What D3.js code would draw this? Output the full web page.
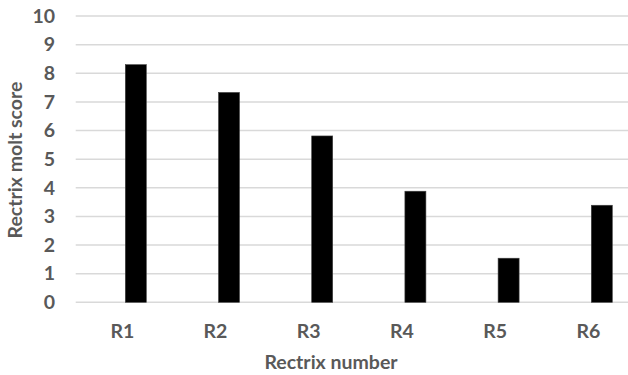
<!DOCTYPE html>
<html><head><meta charset="utf-8">
<script src="https://cdn.jsdelivr.net/npm/d3@7"></script>
<style>body{margin:0;background:#fff}svg{display:block}text{font-family:Lato,"Open Sans",sans-serif;font-weight:700;fill:#595959}</style>
</head><body><div id="c"></div>
<script>
const categories = ["R1","R2","R3","R4","R5","R6"];
const values = [8.3, 7.33, 5.81, 3.88, 1.54, 3.39];
const yTicks = [0,1,2,3,4,5,6,7,8,9,10];
const xTitle = "Rectrix number";
const yTitle = "Rectrix molt score";

const W = 628, H = 375, FS = 19.5;
const svg = d3.select("#c").append("svg").attr("width", W).attr("height", H);
const y = d3.scaleLinear().domain([0,10]).range([302.3, 16]);
// category bands: each category holds an (empty) first slot and the visible bar
const x = d3.scaleBand().domain(categories).range([75.7, 634.9]).padding(0);
const labelX = d => x(d) + x.bandwidth()/2;
const barW = 21;
const barOffset = 13.5;

// gridlines
svg.append("g").selectAll("line").data(yTicks).join("line")
  .attr("x1", 75.7).attr("x2", W).attr("y1", d => y(d)).attr("y2", d => y(d))
  .attr("stroke", "#d9d9d9").attr("stroke-width", 1.5);

// y axis labels
const ya = svg.append("g").attr("transform", "translate(55,0)")
  .call(d3.axisLeft(y).tickValues(yTicks).tickSize(0).tickPadding(0));
ya.select(".domain").remove();
ya.selectAll("text").attr("font-size", FS).attr("fill", "#595959")
  .style("font-family", "Lato,'Open Sans',sans-serif").style("font-weight", 700);

// bars
svg.append("g").selectAll("rect").data(values).join("rect")
  .attr("x", (d,i) => labelX(categories[i]) + barOffset - barW/2)
  .attr("width", barW)
  .attr("y", d => y(d))
  .attr("height", d => y(0) - y(d))
  .attr("fill", "#000").attr("stroke", "#404040").attr("stroke-width", 0.6);

// x labels
const xa = svg.append("g").attr("transform", "translate(0,338)")
  .call(d3.axisBottom(x).tickSize(0).tickPadding(0));
xa.select(".domain").remove();
xa.selectAll("text").attr("font-size", FS).attr("fill", "#595959").attr("dy", 0).attr("y", 0)
  .style("font-family", "Lato,'Open Sans',sans-serif").style("font-weight", 700);

// titles
svg.append("text").attr("x", 331).attr("y", 369).attr("text-anchor", "middle")
  .attr("font-size", FS).text(xTitle);
svg.append("text").attr("transform", "translate(22,160) rotate(-90)")
  .attr("text-anchor", "middle").attr("font-size", FS).text(yTitle);
</script></body></html>
